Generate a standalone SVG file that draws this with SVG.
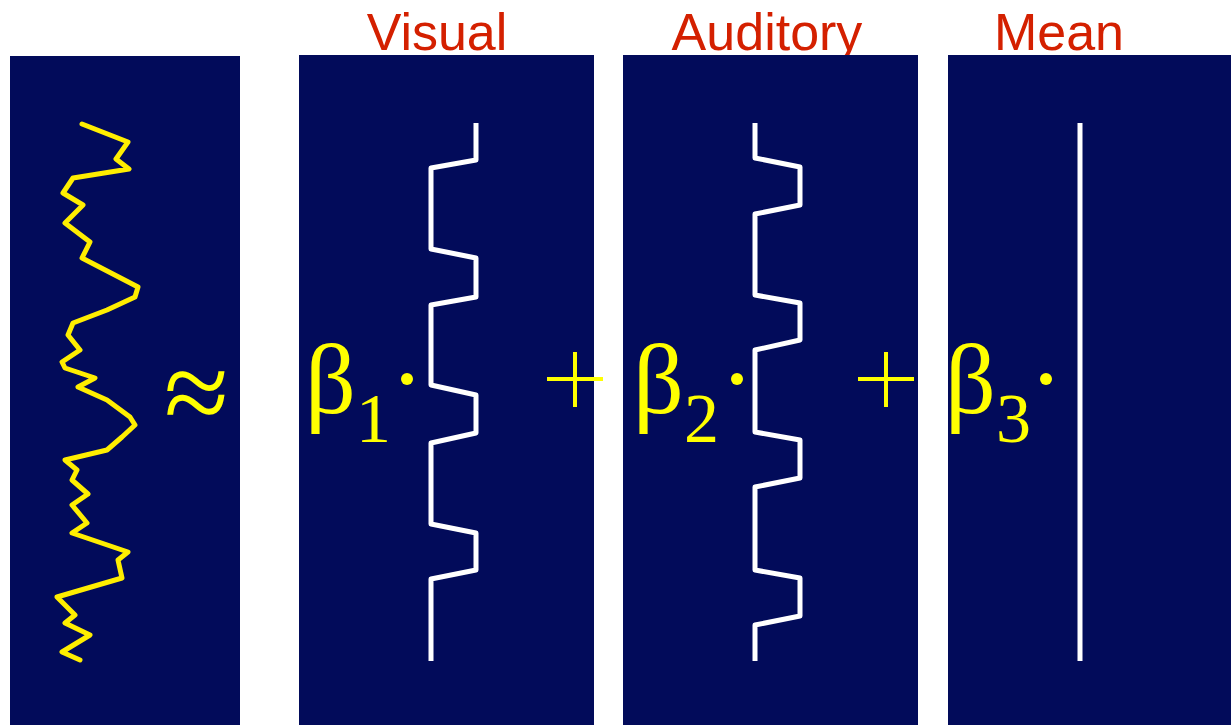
<svg xmlns="http://www.w3.org/2000/svg" width="1231" height="725" viewBox="0 0 1231 725">
<style>
.panel{fill:#020b5a}
.lbl{font-family:"Liberation Sans",Arial,sans-serif;font-size:52px;fill:#d42000;text-anchor:middle}
.sym{font-family:"Liberation Serif","Times New Roman",serif;fill:#ffff00}
.wave{fill:none;stroke:#ffffff;stroke-width:5;stroke-linejoin:round;stroke-linecap:butt}
.sig{fill:none;stroke:#ffee00;stroke-width:5;stroke-linejoin:round;stroke-linecap:round}
</style>
<rect width="1231" height="725" fill="#ffffff"/>
<g id="data">
<rect class="panel" x="10" y="56" width="230" height="669"/>
<polyline class="sig" points="82,124 128,142 116,159 129,169 73,178 63,193 83,205 65,223 90,242 82,258 138,287 135,297 107,310 73,323 68,335 80,350 62,362 65,368 95,378 78,387 107,400 130,417 135,425 122,437 107,450 65,460 77,470 72,480 88,494 72,505 87,523 72,533 128,552 118,560 122,578 57,597 75,615 65,623 90,635 62,652 80,660"/>
<text class="sym" x="164" y="432" font-size="118">≈</text>
</g>
<g id="visual">
<text class="lbl" x="437" y="50">Visual</text>
<rect class="panel" x="299" y="55" width="295" height="670"/>
<polyline class="wave" points="476,123 476,160 431,168 431,249 476,258 476,297 431,305 431,385 476,395 476,433 431,443 431,524 476,533 476,570 431,579 431,661"/>
<text class="sym" x="305" y="413" font-size="100">β<tspan font-size="70" dy="29">1</tspan></text>
<circle cx="407" cy="379" r="6" fill="#ffff00"/>
</g>
<g id="auditory">
<text class="lbl" x="767" y="50">Auditory</text>
<rect class="panel" x="623" y="55" width="295" height="670"/>
<polyline class="wave" points="755,123 755,158 800,167 800,205 755,214 755,295 800,303 800,340 755,350 755,432 800,440 800,478 755,487 755,570 800,578 800,616 755,625 755,661"/>
<text class="sym" x="633" y="413" font-size="100">β<tspan font-size="70" dy="29">2</tspan></text>
<circle cx="737" cy="379" r="6" fill="#ffff00"/>
</g>
<g id="mean">
<text class="lbl" x="1059" y="50">Mean</text>
<rect class="panel" x="948" y="55" width="283" height="670"/>
<line x1="1080" y1="123" x2="1080" y2="661" stroke="#ffffff" stroke-width="5"/>
<text class="sym" x="945" y="413" font-size="100">β<tspan font-size="70" dy="29">3</tspan></text>
<circle cx="1046" cy="379" r="6" fill="#ffff00"/>
</g>
<g id="connectors">
<g stroke="#ffff00" stroke-width="4">
<line x1="547" y1="379" x2="603" y2="379"/><line x1="575" y1="352" x2="575" y2="407"/>
<line x1="858" y1="379" x2="914" y2="379"/><line x1="886" y1="352" x2="886" y2="407"/>
</g>
</g>
</svg>
